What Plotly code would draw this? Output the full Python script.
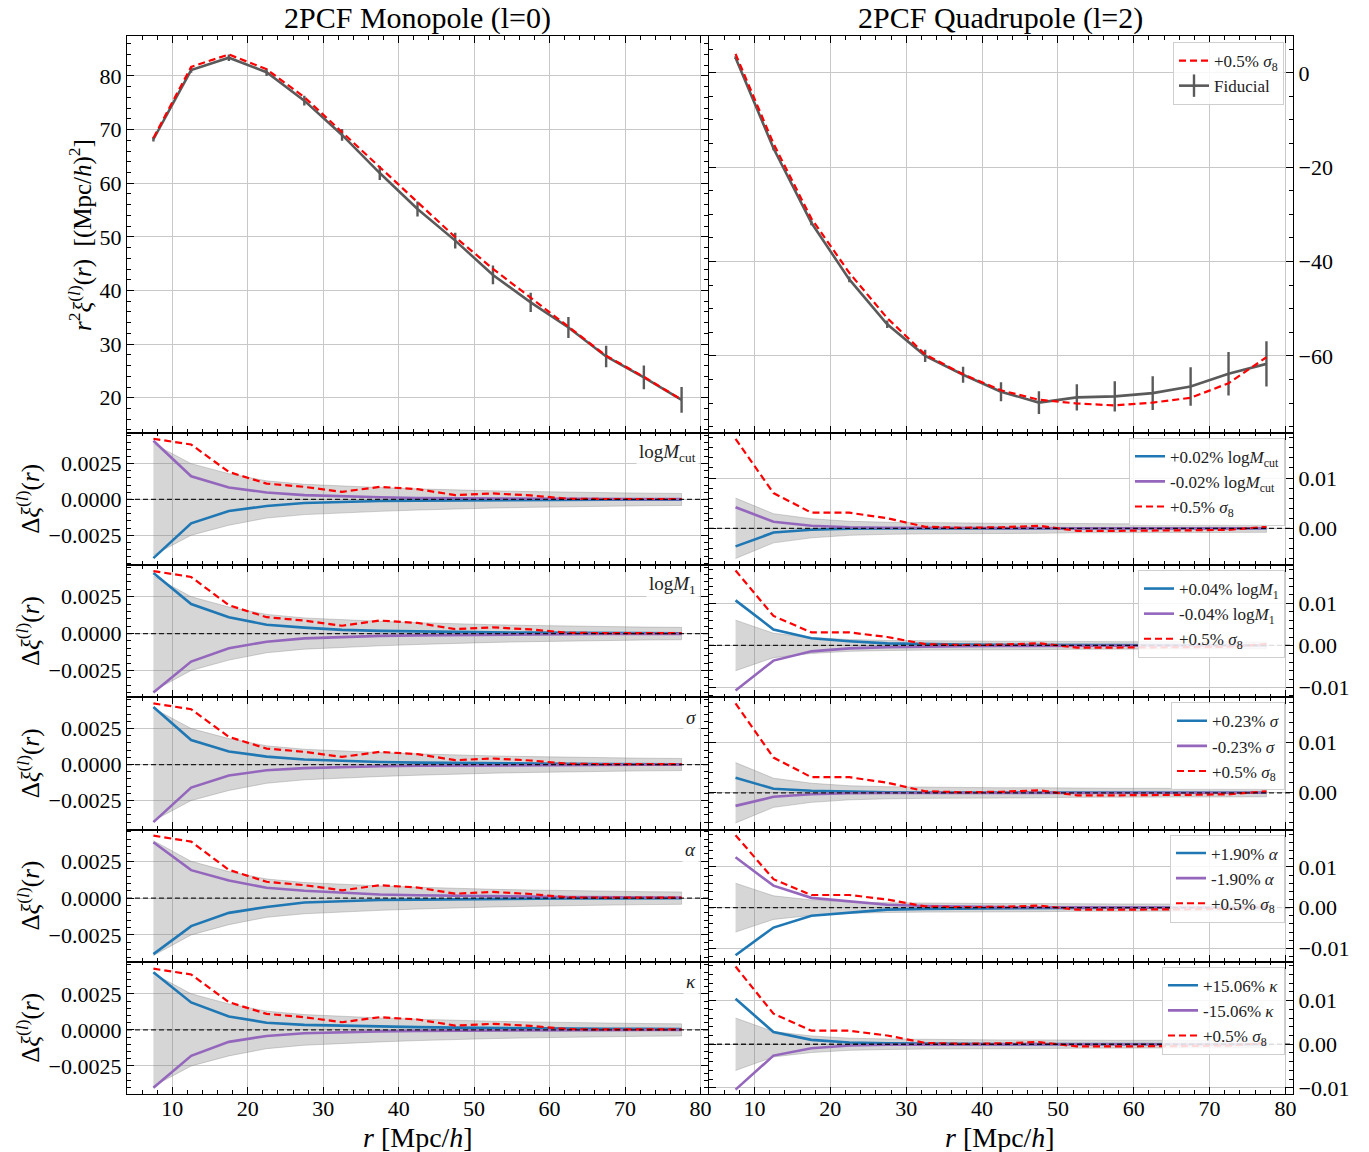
import plotly.graph_objects as go

# ---------------- data ----------------
r = [7.5, 12.5, 17.5, 22.5, 27.5, 32.5, 37.5, 42.5, 47.5, 52.5, 57.5, 62.5, 67.5, 72.5, 77.5]

mono_fid = [68.2, 81.1, 83.4, 80.7, 75.4, 69.0, 61.9, 55.2, 49.3, 42.9, 37.8, 33.1, 27.7, 23.8, 19.6]
mono_fid_err = [0.4, 0.5, 0.6, 0.7, 0.9, 1.1, 1.3, 1.4, 1.45, 1.75, 1.8, 1.95, 2.0, 2.2, 2.4]
mono_s8 = [68.45, 81.7, 84.0, 81.25, 76.05, 69.55, 63.1, 56.5, 49.95, 44.05, 38.7, 33.3, 27.85, 23.9, 19.65]

quad_fid = [3.2, -16.0, -31.8, -43.8, -53.3, -60.0, -64.0, -67.6, -69.9, -68.8, -68.6, -67.9, -66.5, -63.8, -61.7]
quad_fid_err = [0.3, 0.4, 0.5, 0.6, 0.8, 1.3, 1.7, 2.0, 2.4, 2.8, 3.2, 3.6, 4.1, 4.6, 4.8]
quad_s8 = [4.0, -15.0, -30.9, -42.4, -52.0, -59.7, -63.9, -67.3, -69.3, -70.1, -70.5, -69.9, -68.9, -65.8, -60.3]

mono_band = [0.0039, 0.0025, 0.0018, 0.0013, 0.00106, 0.00093, 0.00083, 0.00074, 0.00065, 0.0006,
             0.00055, 0.0005, 0.00046, 0.00044, 0.00042]
quad_band = [0.0060, 0.0029, 0.0019, 0.0014, 0.0012, 0.0011, 0.0010, 0.0010, 0.0010, 0.0009,
             0.0009, 0.0009, 0.0009, 0.0008, 0.0008]

mono_dxi_s8 = [0.00424, 0.00384, 0.00192, 0.00111, 0.00088, 0.00053, 0.00088, 0.00072, 0.0003, 0.00042,
               0.00028, 0.00005, 0.00003, 0.00002, 0.00003]
quad_dxi_s8 = [0.0178, 0.0070, 0.0031, 0.0031, 0.0020, 0.0003, 0.0001, 0.0002, 0.0005, -0.0005,
               -0.0005, -0.0005, -0.0004, -0.0003, 0.0003]

# monopole parameter derivatives (+ step = blue, - step = purple)
mono_logMcut_plus = [-0.0041, -0.00167, -0.00081, -0.00046, -0.00025, -0.00016, -0.00011, -0.00008, -0.00006,
                     -0.00005, -0.00004, -0.00003, -0.00002, -0.00002, -0.00001]
mono_logMcut_minus = [0.0041, 0.00162, 0.00083, 0.00049, 0.0003, 0.0002, 0.00015, 0.0001, 0.00008,
                      0.00006, 0.00005, 0.00004, 0.00003, 0.00002, 0.00002]
mono_logM1_plus = [0.0041, 0.0020, 0.0011, 0.0006, 0.0004, 0.00025, 0.00018, 0.00013, 0.0001,
                   0.00008, 0.00006, 0.00005, 0.00004, 0.00003, 0.00002]
mono_logM1_minus = [-0.0040, -0.0019, -0.0010, -0.00055, -0.00033, -0.00022, -0.00016, -0.00012, -0.00009,
                    -0.00007, -0.00005, -0.00004, -0.00003, -0.00002, -0.00002]
mono_sigma_plus = [0.0040, 0.0017, 0.0009, 0.00055, 0.00035, 0.00025, 0.00018, 0.00013, 0.0001,
                   0.00008, 0.00006, 0.00005, 0.00004, 0.00003, 0.00002]
mono_sigma_minus = [-0.0040, -0.0016, -0.00076, -0.0004, -0.00025, -0.00017, -0.00012, -0.00009, -0.00007,
                    -0.00005, -0.00004, -0.00003, -0.00002, -0.00002, -0.00001]
mono_alpha_plus = [-0.0038, -0.0019, -0.0010, -0.0006, -0.0003, -0.0002, -0.00013, -0.0001, -0.00007,
                   -0.00005, -0.00004, -0.00003, -0.00002, -0.00002, -0.00001]
mono_alpha_minus = [0.0038, 0.0019, 0.0012, 0.0007, 0.0005, 0.00035, 0.00025, 0.0002, 0.00015,
                    0.00012, 0.0001, 0.00008, 0.00006, 0.00005, 0.00004]
mono_kappa_plus = [0.0040, 0.0019, 0.00093, 0.0005, 0.00035, 0.00028, 0.00023, 0.00019, 0.00016,
                   0.00013, 0.00011, 0.00009, 0.00008, 0.00007, 0.00006]
mono_kappa_minus = [-0.0040, -0.0018, -0.00083, -0.00042, -0.00023, -0.00015, -0.0001, -0.00007, -0.00005,
                    -0.00004, -0.00003, -0.00002, -0.00002, -0.00001, -0.00001]

# quadrupole parameter derivatives
quad_logMcut_plus = [-0.0036, -0.00085, -0.0003, -0.0001, -0.00005, -0.00003, -0.00002, -0.00001, 0.0,
                     0.0, 0.0, 0.0, 0.0, 0.0, 0.0]
quad_logMcut_minus = [0.0042, 0.0013, 0.0005, 0.0002, 0.0001, 0.00005, 0.00003, 0.00002, 0.00001,
                      0.0, 0.0, 0.0, 0.0, 0.0, 0.0]
quad_logM1_plus = [0.0107, 0.0038, 0.0017, 0.0010, 0.0005, 0.0003, 0.0002, 0.00015, 0.0001,
                   0.00008, 0.00006, 0.00005, 0.00004, 0.00003, 0.00002]
quad_logM1_minus = [-0.0107, -0.0036, -0.0014, -0.0007, -0.0004, -0.0002, -0.00015, -0.0001, -0.00008,
                    -0.00006, -0.00005, -0.00004, -0.00003, -0.00002, -0.00002]
quad_sigma_plus = [0.0030, 0.0008, 0.0004, 0.0002, 0.0001, 0.00005, 0.00003, 0.00002, 0.00001,
                   0.0, 0.0, 0.0, 0.0, 0.0, 0.0]
quad_sigma_minus = [-0.0026, -0.0008, -0.0003, -0.0001, -0.00005, -0.00003, -0.00002, -0.00001, 0.0,
                    0.0, 0.0, 0.0, 0.0, 0.0, 0.0]
quad_alpha_plus = [-0.0117, -0.0049, -0.0020, -0.0012, -0.0005, -0.0003, -0.0002, -0.00012, -0.00008,
                   -0.00005, -0.00004, -0.00003, -0.00002, -0.00002, -0.00001]
quad_alpha_minus = [0.0124, 0.0054, 0.0024, 0.0015, 0.0007, 0.0004, 0.0002, 0.00012, 0.00008,
                    0.00005, 0.00004, 0.00003, 0.00002, 0.00002, 0.00001]
quad_kappa_plus = [0.0104, 0.0028, 0.0010, 0.0004, 0.0002, 0.0001, 0.00005, 0.00003, 0.00002,
                   0.00001, 0.0, 0.0, 0.0, 0.0, 0.0]
quad_kappa_minus = [-0.0104, -0.0026, -0.0009, -0.0003, -0.0001, -0.00005, -0.00003, -0.00002, -0.00001,
                    0.0, 0.0, 0.0, 0.0, 0.0, 0.0]

param_names = ["log<i>M</i><sub>cut</sub>", "log<i>M</i><sub>1</sub>", "<i>σ</i>", "<i>α</i>", "<i>κ</i>"]
param_steps = ["0.02%", "0.04%", "0.23%", "1.90%", "15.06%"]
mono_plus = [mono_logMcut_plus, mono_logM1_plus, mono_sigma_plus, mono_alpha_plus, mono_kappa_plus]
mono_minus = [mono_logMcut_minus, mono_logM1_minus, mono_sigma_minus, mono_alpha_minus, mono_kappa_minus]
quad_plus = [quad_logMcut_plus, quad_logM1_plus, quad_sigma_plus, quad_alpha_plus, quad_kappa_plus]
quad_minus = [quad_logMcut_minus, quad_logM1_minus, quad_sigma_minus, quad_alpha_minus, quad_kappa_minus]

# ---------------- styling / geometry ----------------
FONT = "Liberation Serif"
BLUE = "#1f77b4"
PURPLE = "#9467bd"
RED = "#ff0000"
GRAY = "#5a5a5a"
BAND = "rgba(128,128,128,0.32)"
GRID = "#c8c8c8"

W, H = 1369, 1152
ML, MR, MT, MB = 127, 76, 36, 58
PW, PH = W - ML - MR, H - MT - MB

def px2x(px):
    return (px - ML) / PW

def px2y(py):
    return (H - MB - py) / PH

xdom_left = [0, px2x(708)]
xdom_right = [px2x(709), 1]
ydoms = [[5 / 8, 1], [4 / 8, 5 / 8], [3 / 8, 4 / 8], [2 / 8, 3 / 8], [1 / 8, 2 / 8], [0, 1 / 8]]
XRANGE = [4.0, 81.0]

yranges_left = [[13.48, 87.45], [-0.00458, 0.00466], [-0.00432, 0.00465], [-0.00451, 0.00467],
                [-0.00432, 0.00466], [-0.00444, 0.00472]]
yranges_right = [[-76.3, 7.8], [-0.0073, 0.0190], [-0.0123, 0.0191], [-0.0073, 0.0190],
                 [-0.0133, 0.0192], [-0.0114, 0.0189]]

fig = go.Figure()


def idx(row, col):
    return row * 2 + col + 1


def sfx(i):
    return "" if i == 1 else str(i)


# ---------------- top panels ----------------
for col, (fid, err, s8) in enumerate([(mono_fid, mono_fid_err, mono_s8), (quad_fid, quad_fid_err, quad_s8)]):
    i = idx(0, col)
    fig.add_trace(go.Scatter(
        x=r, y=fid, mode="lines", line=dict(color=GRAY, width=2.6),
        error_y=dict(type="data", array=err, visible=True, thickness=2.4, width=0, color=GRAY),
        showlegend=False, xaxis="x" + sfx(i), yaxis="y" + sfx(i)))
    fig.add_trace(go.Scatter(
        x=r, y=s8, mode="lines", line=dict(color=RED, width=2.2, dash="7px,4px"),
        name="+0.5% <i>σ</i><sub>8</sub>", showlegend=(col == 1), legend="legend", legendrank=1,
        xaxis="x" + sfx(i), yaxis="y" + sfx(i)))
    if col == 1:
        fig.add_trace(go.Scatter(
            x=[None], y=[None], mode="lines+markers", name="Fiducial",
            line=dict(color=GRAY, width=2.6),
            marker=dict(symbol="line-ns", size=16, line=dict(width=2.4, color=GRAY)),
            legend="legend", legendrank=2, xaxis="x" + sfx(i), yaxis="y" + sfx(i)))

# ---------------- residual panels ----------------
for k in range(5):
    row = k + 1
    for col in range(2):
        i = idx(row, col)
        band = mono_band if col == 0 else quad_band
        plus = mono_plus[k] if col == 0 else quad_plus[k]
        minus = mono_minus[k] if col == 0 else quad_minus[k]
        s8 = mono_dxi_s8 if col == 0 else quad_dxi_s8
        lg = "legend" + str(row + 1)
        xa, ya = "x" + sfx(i), "y" + sfx(i)
        fig.add_trace(go.Scatter(
            x=r + r[::-1], y=band + [-v for v in band[::-1]], fill="toself", fillcolor=BAND,
            line=dict(color="rgba(128,128,128,0.35)", width=1), mode="lines",
            showlegend=False, hoverinfo="skip", xaxis=xa, yaxis=ya))
        fig.add_trace(go.Scatter(
            x=r, y=plus, mode="lines", line=dict(color=BLUE, width=2.6),
            name="+" + param_steps[k] + " " + param_names[k],
            showlegend=(col == 1), legend=lg, legendrank=1, xaxis=xa, yaxis=ya))
        fig.add_trace(go.Scatter(
            x=r, y=minus, mode="lines", line=dict(color=PURPLE, width=2.6),
            name="-" + param_steps[k] + " " + param_names[k],
            showlegend=(col == 1), legend=lg, legendrank=2, xaxis=xa, yaxis=ya))
        fig.add_trace(go.Scatter(
            x=r, y=s8, mode="lines", line=dict(color=RED, width=2.2, dash="7px,4px"),
            name="+0.5% <i>σ</i><sub>8</sub>",
            showlegend=(col == 1), legend=lg, legendrank=3, xaxis=xa, yaxis=ya))
        fig.add_shape(type="line", xref=xa + " domain", x0=0, x1=1, yref=ya, y0=0, y1=0,
                      line=dict(color="rgba(0,0,0,0.85)", width=1.3, dash="5px,3px"), layer="above")

# ---------------- axes ----------------
tickfont = dict(family=FONT, size=22, color="black")
layout_axes = {}
for row in range(6):
    for col in range(2):
        i = idx(row, col)
        xa = dict(
            domain=xdom_left if col == 0 else xdom_right, range=XRANGE,
            anchor="y" + sfx(i), showline=True, linecolor="black", linewidth=1.3, mirror="allticks",
            ticks="inside", ticklen=7, tickwidth=1.1, tickcolor="black",
            tickmode="array", tickvals=[10, 20, 30, 40, 50, 60, 70, 80],
            showgrid=True, gridcolor=GRID, gridwidth=1.2, zeroline=False,
            showticklabels=(row == 5), tickfont=tickfont, ticklabelstandoff=-6,
            minor=dict(dtick=2, tick0=0, ticks="inside", ticklen=3.5, tickwidth=0.9, tickcolor="black",
                       showgrid=False),
        )
        if row == 0:
            dt, mdt, fmt = (10, 2, "d") if col == 0 else (20, 5, "d")
        else:
            dt, mdt, fmt = (0.0025, 0.0005, ".4f") if col == 0 else (0.01, 0.002, ".2f")
        ya = dict(
            domain=ydoms[row], range=yranges_left[row] if col == 0 else yranges_right[row],
            anchor="x" + sfx(i), side="left" if col == 0 else "right",
            showline=True, linecolor="black", linewidth=1.3, mirror="allticks",
            ticks="inside", ticklen=7, tickwidth=1.1, tickcolor="black",
            tick0=0, dtick=dt, tickformat=fmt,
            showgrid=True, gridcolor=GRID, gridwidth=1.2, zeroline=False, tickfont=tickfont,
            minor=dict(dtick=mdt, tick0=0, ticks="inside", ticklen=3.5, tickwidth=0.9, tickcolor="black",
                       showgrid=False),
        )
        layout_axes["xaxis" + sfx(i)] = xa
        layout_axes["yaxis" + sfx(i)] = ya

fig.update_layout(**layout_axes)

# ---------------- legends ----------------
leg_common = dict(bgcolor="rgba(255,255,255,0.85)", bordercolor="#cfcfcf", borderwidth=1,
                  font=dict(family=FONT, size=17, color="#222"), xanchor="right", yanchor="top",
                  traceorder="normal", itemwidth=30, tracegroupgap=0)
legends = {"legend": dict(x=px2x(1284), y=px2y(42), **leg_common)}
for k in range(5):
    top = 432.75 + 132.25 * k + 5
    legends["legend" + str(k + 2)] = dict(x=px2x(1285), y=px2y(top), **leg_common)
fig.update_layout(**legends)

# ---------------- annotations ----------------
ann = []
title_font = dict(family=FONT, size=30, color="black")
ann.append(dict(text="2PCF Monopole (l=0)", x=px2x(417), y=px2y(18), xref="paper", yref="paper",
                showarrow=False, font=title_font, xanchor="center", yanchor="middle"))
ann.append(dict(text="2PCF Quadrupole (l=2)", x=px2x(1000), y=px2y(18), xref="paper", yref="paper",
                showarrow=False, font=title_font, xanchor="center", yanchor="middle"))
ann.append(dict(text="<i>r</i><sup>2</sup><i>ξ</i><sup>(<i>l</i>)</sup>(<i>r</i>)  [(Mpc/<i>h</i>)<sup>2</sup>]",
                x=px2x(80), y=px2y(235), xref="paper", yref="paper", textangle=-90, showarrow=False,
                xanchor="center", yanchor="middle",
                font=dict(family=FONT, size=25, color="black")))
for k in range(5):
    cy = 432.75 + 132.25 * k + 66
    ann.append(dict(text="Δ<i>ξ</i><sup>(<i>l</i>)</sup>(<i>r</i>)", x=px2x(29), y=px2y(cy),
                    xref="paper", yref="paper", textangle=-90, showarrow=False,
                    xanchor="center", yanchor="middle",
                    font=dict(family=FONT, size=25, color="black")))
    i = idx(k + 1, 0)
    ann.append(dict(text=param_names[k], x=0.985, y=1 - 20 / 132.25, xref="x" + sfx(i) + " domain",
                    yref="y" + sfx(i) + " domain", xanchor="right", yanchor="middle", showarrow=False,
                    bgcolor="rgba(255,255,255,0.85)", borderpad=2,
                    font=dict(family=FONT, size=19, color="#222")))
for cx in (418, 1000):
    ann.append(dict(text="<i>r</i> [Mpc/<i>h</i>]", x=px2x(cx), y=px2y(1137), xref="paper", yref="paper",
                    showarrow=False, xanchor="center", yanchor="middle",
                    font=dict(family=FONT, size=28, color="black")))

fig.update_layout(
    annotations=ann, width=W, height=H,
    margin=dict(l=ML, r=MR, t=MT, b=MB),
    paper_bgcolor="white", plot_bgcolor="white",
    font=dict(family=FONT, color="black"),
)

fig.write_html("out.html")
